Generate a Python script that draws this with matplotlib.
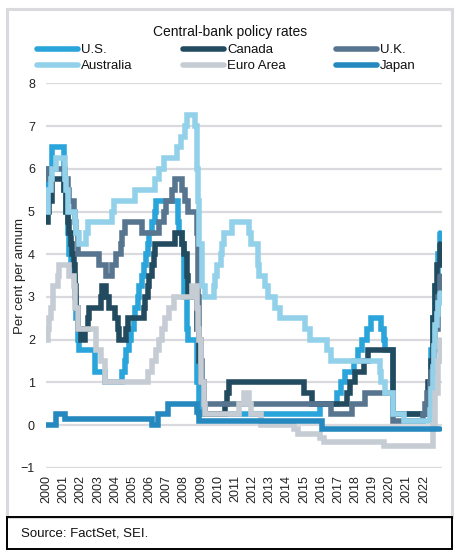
import matplotlib
matplotlib.use('Agg')
from matplotlib import pyplot as plt
from matplotlib.patches import Rectangle

plt.rcParams['font.family'] = ['Liberation Sans', 'DejaVu Sans']

# policy rate changes, month of change -> new rate (per cent)
us_dates = ['2000-01', '2000-02', '2000-03', '2000-05', '2001-01', '2001-03', '2001-04', '2001-05',
            '2001-06', '2001-08', '2001-09', '2001-10', '2001-11', '2001-12', '2002-11', '2003-06',
            '2004-06', '2004-08', '2004-09', '2004-11', '2004-12', '2005-02', '2005-03', '2005-05',
            '2005-06', '2005-08', '2005-09', '2005-11', '2005-12', '2006-01', '2006-03', '2006-05',
            '2006-06', '2007-09', '2007-10', '2007-12', '2008-01', '2008-03', '2008-04', '2008-10',
            '2008-12', '2015-12', '2016-12', '2017-03', '2017-06', '2017-12', '2018-03', '2018-06',
            '2018-09', '2018-12', '2019-07', '2019-09', '2019-10', '2020-03', '2022-03', '2022-05',
            '2022-06', '2022-07', '2022-09', '2022-11', '2022-12']
us_rates = [5.5, 5.75, 6.0, 6.5, 5.5, 5.0, 4.5, 4.0,
            3.75, 3.5, 3.0, 2.5, 2.0, 1.75, 1.25, 1.0,
            1.25, 1.5, 1.75, 2.0, 2.25, 2.5, 2.75, 3.0,
            3.25, 3.5, 3.75, 4.0, 4.25, 4.5, 4.75, 5.0,
            5.25, 4.75, 4.5, 4.25, 3.0, 2.25, 2.0, 1.0,
            0.25, 0.5, 0.75, 1.0, 1.25, 1.5, 1.75, 2.0,
            2.25, 2.5, 2.25, 2.0, 1.75, 0.25, 0.5, 1.0,
            1.75, 2.5, 3.25, 4.0, 4.5]

ca_dates = ['2000-01', '2000-02', '2000-03', '2000-05', '2001-01', '2001-03', '2001-04', '2001-05',
            '2001-06', '2001-07', '2001-08', '2001-09', '2001-10', '2001-11', '2002-01', '2002-04',
            '2002-06', '2002-07', '2003-03', '2003-04', '2003-07', '2003-09', '2004-01', '2004-03',
            '2004-04', '2004-09', '2004-10', '2005-09', '2005-10', '2005-12', '2006-01', '2006-03',
            '2006-04', '2006-05', '2007-07', '2007-12', '2008-01', '2008-03', '2008-04', '2008-10',
            '2008-12', '2009-01', '2009-03', '2009-04', '2010-06', '2010-07', '2010-09', '2015-01',
            '2015-07', '2017-07', '2017-09', '2018-01', '2018-07', '2018-10', '2020-03', '2022-03',
            '2022-04', '2022-06', '2022-07', '2022-09', '2022-10', '2022-12']
ca_rates = [4.75, 5.0, 5.25, 5.75, 5.5, 5.0, 4.75, 4.5,
            4.25, 4.0, 3.75, 3.25, 2.75, 2.25, 2.0, 2.25,
            2.5, 2.75, 3.0, 3.25, 3.0, 2.75, 2.5, 2.25,
            2.0, 2.25, 2.5, 2.75, 3.0, 3.25, 3.5, 3.75,
            4.0, 4.25, 4.5, 4.25, 4.0, 3.5, 3.0, 2.25,
            1.5, 1.0, 0.5, 0.25, 0.5, 0.75, 1.0, 0.75,
            0.5, 0.75, 1.0, 1.25, 1.5, 1.75, 0.25, 0.5,
            1.0, 1.5, 2.5, 3.25, 3.75, 4.25]

uk_dates = ['2000-01', '2000-02', '2001-02', '2001-04', '2001-05', '2001-08', '2001-09', '2001-10',
            '2001-11', '2003-02', '2003-07', '2003-11', '2004-02', '2004-05', '2004-06', '2004-08',
            '2005-08', '2006-08', '2006-11', '2007-01', '2007-05', '2007-07', '2007-12', '2008-02',
            '2008-04', '2008-10', '2008-11', '2008-12', '2009-01', '2009-02', '2009-03', '2016-08',
            '2017-11', '2018-08', '2020-03', '2021-12', '2022-02', '2022-03', '2022-05', '2022-06',
            '2022-08', '2022-09', '2022-11', '2022-12']
uk_rates = [5.75, 6.0, 5.75, 5.5, 5.25, 5.0, 4.75, 4.5,
            4.0, 3.75, 3.5, 3.75, 4.0, 4.25, 4.5, 4.75,
            4.5, 4.75, 5.0, 5.25, 5.5, 5.75, 5.5, 5.25,
            5.0, 4.5, 3.0, 2.0, 1.5, 1.0, 0.5, 0.25,
            0.5, 0.75, 0.1, 0.25, 0.5, 0.75, 1.0, 1.25,
            1.75, 2.25, 3.0, 3.5]

au_dates = ['2000-01', '2000-02', '2000-04', '2000-05', '2000-08', '2001-02', '2001-03', '2001-04',
            '2001-09', '2001-10', '2001-12', '2002-05', '2002-06', '2003-11', '2003-12', '2005-03',
            '2006-05', '2006-08', '2006-11', '2007-08', '2007-11', '2008-02', '2008-03', '2008-09',
            '2008-10', '2008-11', '2008-12', '2009-02', '2009-04', '2009-10', '2009-11', '2009-12',
            '2010-03', '2010-04', '2010-05', '2010-11', '2011-11', '2011-12', '2012-05', '2012-06',
            '2012-10', '2012-12', '2013-05', '2013-08', '2015-02', '2015-05', '2016-05', '2016-08',
            '2019-06', '2019-07', '2019-10', '2020-03', '2020-11', '2022-05', '2022-06', '2022-07',
            '2022-08', '2022-09', '2022-10', '2022-11', '2022-12']
au_rates = [5.0, 5.5, 5.75, 6.0, 6.25, 5.75, 5.5, 5.0,
            4.75, 4.5, 4.25, 4.5, 4.75, 5.0, 5.25, 5.5,
            5.75, 6.0, 6.25, 6.5, 6.75, 7.0, 7.25, 7.0,
            6.0, 5.25, 4.25, 3.25, 3.0, 3.25, 3.5, 3.75,
            4.0, 4.25, 4.5, 4.75, 4.5, 4.25, 3.75, 3.5,
            3.25, 3.0, 2.75, 2.5, 2.25, 2.0, 1.75, 1.5,
            1.25, 1.0, 0.75, 0.25, 0.1, 0.35, 0.85, 1.35,
            1.85, 2.35, 2.6, 2.85, 3.1]

eu_dates = ['2000-01', '2000-02', '2000-03', '2000-04', '2000-06', '2000-09', '2000-10', '2001-05',
            '2001-08', '2001-09', '2001-11', '2002-12', '2003-03', '2003-06', '2005-12', '2006-03',
            '2006-06', '2006-08', '2006-10', '2006-12', '2007-03', '2007-06', '2008-07', '2008-10',
            '2008-11', '2008-12', '2009-01', '2009-03', '2009-04', '2011-04', '2011-07', '2011-11',
            '2011-12', '2012-07', '2014-06', '2014-09', '2015-12', '2016-03', '2019-09', '2022-07',
            '2022-09', '2022-11', '2022-12']
eu_rates = [2.0, 2.25, 2.5, 2.75, 3.25, 3.5, 3.75, 3.5,
            3.25, 2.75, 2.25, 1.75, 1.5, 1.0, 1.25, 1.5,
            1.75, 2.0, 2.25, 2.5, 2.75, 3.0, 3.25, 2.75,
            2.25, 2.0, 1.0, 0.5, 0.25, 0.5, 0.75, 0.5,
            0.25, 0.0, -0.1, -0.2, -0.3, -0.4, -0.5, 0.0,
            0.75, 1.5, 2.0]

jp_dates = ['2000-01', '2000-08', '2001-02', '2006-03', '2006-07', '2007-02', '2008-10', '2008-12',
            '2016-02']
jp_rates = [0.0, 0.25, 0.15, 0.0, 0.25, 0.5, 0.3, 0.1,
            -0.1]

END = '2022-12'
years = list(range(2000, 2023))

names = ['U.S.', 'Canada', 'U.K.', 'Australia', 'Euro Area', 'Japan']
colors = ['#2aa5db', '#234b60', '#587590', '#93d1eb', '#c5ccd3', '#2589bf']
all_dates = [us_dates, ca_dates, uk_dates, au_dates, eu_dates, jp_dates]
all_rates = [us_rates, ca_rates, uk_rates, au_rates, eu_rates, jp_rates]


def to_year(ym):
    y, m = ym.split('-')
    return int(y) + (int(m) - 1) / 12


fig = plt.figure(figsize=(4.6, 5.59), dpi=100)
W, H = 460, 559
ax = fig.add_axes([46 / W, 1 - 467.7 / H, 396 / W, 384.3 / H])

lines = []
for name, color, dates, rates in zip(names, colors, all_dates, all_rates):
    x = [to_year(d) for d in dates] + [to_year(END)]
    y = rates + [rates[-1]]
    ln, = ax.plot(x, y, drawstyle='steps-post', color=color, lw=4.0, label=name,
                  solid_joinstyle='miter', solid_capstyle='round')
    lines.append(ln)

ax.set_xlim(1999.98, 2023.05)
ax.set_ylim(-1, 8)
ax.set_yticks(range(-1, 9))
ax.set_xticks(years)
ax.set_xticklabels([str(y) for y in years], rotation=90)
ax.tick_params(axis='both', length=0, labelsize=9, colors='#222222')
ax.tick_params(axis='y', pad=8)
ax.tick_params(axis='x', pad=5)
ax.grid(axis='y', color='#d9d9de', lw=1.6)
ax.set_axisbelow(True)
for s in ax.spines.values():
    s.set_visible(False)

ax.set_ylabel('Per cent per annum', fontsize=9.5, color='#222222')
ax.yaxis.set_label_coords(-0.05, 0.5)

fig.text(230 / W, 1 - 32 / H, 'Central-bank policy rates', ha='center', va='center',
         fontsize=10, color='#111111')

# legend fills column by column, so reorder to read row by row like the original
order = [0, 3, 1, 4, 2, 5]
leg = fig.legend([lines[i] for i in order], [names[i] for i in order],
                 loc='upper left', bbox_to_anchor=(37 / W, 1 - 44 / H), ncol=3, frameon=False,
                 fontsize=9.5, handlelength=3.1, handletextpad=0.25, columnspacing=3.8,
                 labelspacing=0.3, borderpad=0, borderaxespad=0)
for t in leg.get_texts():
    t.set_color('#111111')

# outer frame and source box
fig.add_artist(Rectangle((7 / W, 1 - 517 / H), 445 / W, 508 / H, transform=fig.transFigure,
                         fill=False, edgecolor='#d9d9de', lw=2.2))
fig.add_artist(Rectangle((7 / W, 1 - 549 / H), 445 / W, 32 / H, transform=fig.transFigure,
                         fill=False, edgecolor='black', lw=1.4))
fig.text(21 / W, 1 - 533 / H, 'Source: FactSet, SEI.', ha='left', va='center',
         fontsize=9.5, color='#111111')

fig.savefig('out.png', dpi=100)
